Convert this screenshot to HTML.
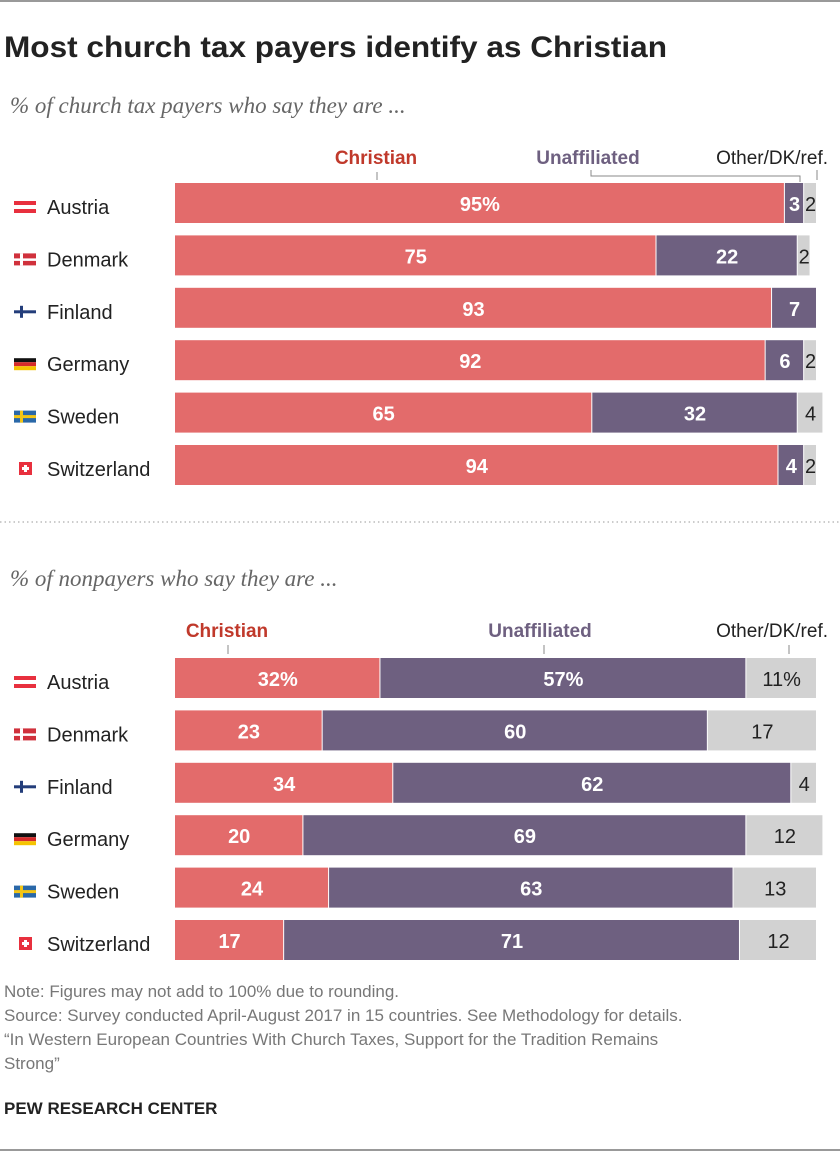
<!DOCTYPE html>
<html><head><meta charset="utf-8"><style>
body{margin:0;background:#fff;font-family:"Liberation Sans",sans-serif;}
svg text{font-family:"Liberation Sans",sans-serif;}
</style></head><body>
<svg id="c" width="840" height="1152" xmlns="http://www.w3.org/2000/svg">
<line x1="0" y1="1" x2="840" y2="1" stroke="#333" stroke-width="1"/>
<text x="4" y="57" font-size="30" font-weight="bold" fill="#222" textLength="663" lengthAdjust="spacingAndGlyphs">Most church tax payers identify as Christian</text>
<text x="10" y="113" font-size="23" font-style="italic" fill="#666" style="font-family:'Liberation Serif',serif">% of church tax payers who say they are ...</text>
<text x="10" y="586" font-size="23" font-style="italic" fill="#666" style="font-family:'Liberation Serif',serif">% of nonpayers who say they are ...</text>
<line x1="0" y1="522" x2="840" y2="522" stroke="#999" stroke-dasharray="1.5,3"/>
<text x="376" y="164" font-size="19" font-weight="bold" fill="#c0392b" text-anchor="middle">Christian</text>
<line x1="377" y1="172" x2="377" y2="180" stroke="#888"/>
<text x="588" y="164" font-size="19" font-weight="bold" fill="#6e6080" text-anchor="middle">Unaffiliated</text>
<path d="M591 170V176H800V182" fill="none" stroke="#888"/>
<text x="828" y="164" font-size="19" fill="#222" text-anchor="end">Other/DK/ref.</text>
<line x1="817" y1="170" x2="817" y2="180" stroke="#888"/>
<text x="227" y="637" font-size="19" font-weight="bold" fill="#c0392b" text-anchor="middle">Christian</text>
<line x1="228" y1="645" x2="228" y2="654" stroke="#888"/>
<text x="540" y="637" font-size="19" font-weight="bold" fill="#6e6080" text-anchor="middle">Unaffiliated</text>
<line x1="544" y1="645" x2="544" y2="654" stroke="#888"/>
<text x="828" y="637" font-size="19" fill="#222" text-anchor="end">Other/DK/ref.</text>
<line x1="789" y1="645" x2="789" y2="654" stroke="#888"/>
<g id="top"></g><g id="bot"></g>
<text x="4" y="997" font-size="17" fill="#777">Note: Figures may not add to 100% due to rounding.</text>
<text x="4" y="1021" font-size="17" fill="#777">Source: Survey conducted April-August 2017 in 15 countries. See Methodology for details.</text>
<text x="4" y="1045" font-size="17" fill="#777">“In Western European Countries With Church Taxes, Support for the Tradition Remains</text>
<text x="4" y="1069" font-size="17" fill="#777">Strong”</text>
<text x="4" y="1114" font-size="17" font-weight="bold" fill="#222">PEW RESEARCH CENTER</text>
<line x1="0" y1="1150" x2="840" y2="1150" stroke="#333"/>
</svg>
<script>
const countries=["Austria","Denmark","Finland","Germany","Sweden","Switzerland"];
const payChristian=[95,75,93,92,65,94];
const payUnaff=[3,22,7,6,32,4];
const payOther=[2,2,0,2,4,2];
const nonChristian=[32,23,34,20,24,17];
const nonUnaff=[57,60,62,69,63,71];
const nonOther=[11,17,4,12,13,12];
const NS="http://www.w3.org/2000/svg";
const x0=175,k=6.42;
const xs=v=>v*k;
function mk(t,a,p){const e=document.createElementNS(NS,t);for(const q in a)e.setAttribute(q,a[q]);p.appendChild(e);return e;}
function flag(g,c,x,y){
 if(c=="Austria"){mk('rect',{x:x,y:y,width:22,height:12,fill:'#e8303e'},g);mk('rect',{x:x,y:y+4,width:22,height:4,fill:'#fff'},g);}
 else if(c=="Denmark"){mk('rect',{x:x,y:y,width:22,height:12,fill:'#d0313c'},g);mk('rect',{x:x+6,y:y,width:3,height:12,fill:'#fff'},g);mk('rect',{x:x,y:y+5,width:22,height:2.5,fill:'#fff'},g);}
 else if(c=="Finland"){mk('rect',{x:x,y:y,width:22,height:12,fill:'#fff'},g);mk('rect',{x:x+6,y:y,width:3,height:12,fill:'#233d7a'},g);mk('rect',{x:x,y:y+4.5,width:22,height:3,fill:'#233d7a'},g);}
 else if(c=="Germany"){mk('rect',{x:x,y:y,width:22,height:4,fill:'#111'},g);mk('rect',{x:x,y:y+4,width:22,height:4,fill:'#d62b2b'},g);mk('rect',{x:x,y:y+8,width:22,height:4,fill:'#f5c400'},g);}
 else if(c=="Sweden"){mk('rect',{x:x,y:y,width:22,height:12,fill:'#2a68a8'},g);mk('rect',{x:x+6,y:y,width:3,height:12,fill:'#f3c515'},g);mk('rect',{x:x,y:y+4.5,width:22,height:3,fill:'#f3c515'},g);}
 else {mk('rect',{x:x+5,y:y-1,width:13,height:13,fill:'#e8303e'},g);mk('rect',{x:x+10,y:y+2,width:3,height:7,fill:'#fff'},g);mk('rect',{x:x+8,y:y+4,width:7,height:3,fill:'#fff'},g);}
}
function draw(gid,y0,A,B,C,tag){
 const g=document.getElementById(gid);
 countries.forEach((c,i)=>{
  const y=y0+i*52.4;
  const fg=mk('g',{},g);
  
  
  flag(fg,c,14,y+18);
  const t=mk('text',{x:47,y:y+31,'font-size':20,fill:'#222'},g);t.textContent=c;
  
  
  const vals=[A[i],B[i],C[i]],cols=['#e36b6b','#6e6080','#d2d2d2'],tc=['#fff','#fff','#222'];
  let x=x0;
  vals.forEach((v,j)=>{
   if(!v)return;
   const w=xs(v);
   const r=mk('rect',{x:x,y:y,width:w-1,height:40,fill:cols[j]},g);
   
   
   const lt=mk('text',{x:x+w/2,y:y+28,'font-size':20,'text-anchor':'middle',fill:tc[j],'font-weight':j<2?'bold':'normal'},g);
   let s=String(v);
   if(i==0&&(tag=='nonpayers'||j==0))s+='%';
   lt.textContent=s;
   
   
   x+=w;
  });
 });
}
draw('top',183,payChristian,payUnaff,payOther,'payers');
draw('bot',658,nonChristian,nonUnaff,nonOther,'nonpayers');
</script>
</body></html>
